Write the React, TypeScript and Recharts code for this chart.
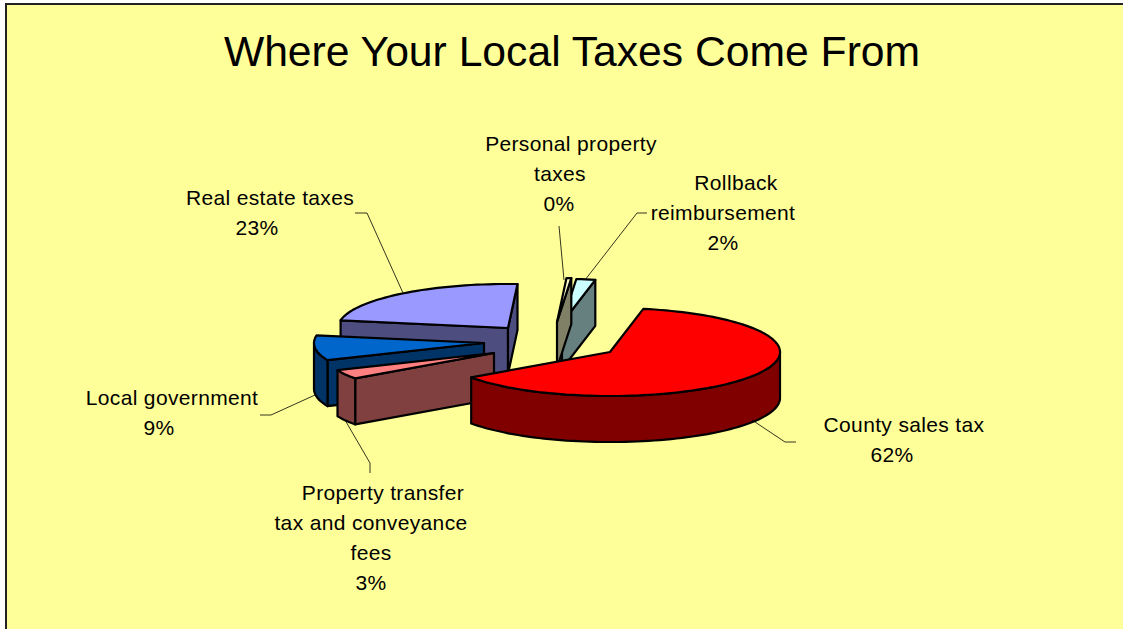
import React from "react";
import { PieChart, Pie } from "recharts";

// Data (the Pie runs counter-clockwise, which gives back-to-front painting)
const categories = [
  "Real estate taxes",
  "Local government",
  "Property transfer tax and conveyance fees",
  "County sales tax",
  "Rollback reimbursement",
  "Personal property taxes",
];
const values = [23.1, 9.2, 3.4, 62.1, 1.8, 0.45];
const titleText = "Where Your Local Taxes Come From";

const rows = categories.map((name, i) => ({ name, value: values[i] }));

// Styles and placement, kept apart from the data
const TOP: Record<string, string> = {
  "Real estate taxes": "#9999FF",
  "Local government": "#0066CC",
  "Property transfer tax and conveyance fees": "#FF8080",
  "County sales tax": "#FF0000",
  "Rollback reimbursement": "#CCFFFF",
  "Personal property taxes": "#FFFFCC",
};
const SIDE: Record<string, string> = {
  "Real estate taxes": "#4D4D80",
  "Local government": "#003366",
  "Property transfer tax and conveyance fees": "#804040",
  "County sales tax": "#800000",
  "Rollback reimbursement": "#668080",
  "Personal property taxes": "#808066",
};
const EXPLODE: Record<string, [number, number]> = {
  "Real estate taxes": [-37, -12],
  "Local government": [-61, 3],
  "Property transfer tax and conveyance fees": [-51, 13],
  "County sales tax": [65, 12],
  "Rollback reimbursement": [17, -17],
  "Personal property taxes": [12, -18],
};
type Lay = { lines: [string, number][]; pctX: number; y: number; leader: string };
const LABELS: Record<string, Lay> = {
  "Real estate taxes": {
    lines: [["Real estate taxes", 270]],
    pctX: 257,
    y: 198,
    leader: "355,213 367,213 403,293",
  },
  "Local government": {
    lines: [["Local government", 172]],
    pctX: 159,
    y: 398,
    leader: "260,415 271,415 315,395",
  },
  "Property transfer tax and conveyance fees": {
    lines: [
      ["Property transfer", 383],
      ["tax and conveyance", 371],
      ["fees", 371],
    ],
    pctX: 371,
    y: 493,
    leader: "370,473 370,463 345,420",
  },
  "County sales tax": {
    lines: [["County sales tax", 904]],
    pctX: 892,
    y: 425,
    leader: "796,442 785,442 752,420",
  },
  "Rollback reimbursement": {
    lines: [
      ["Rollback", 736],
      ["reimbursement", 723],
    ],
    pctX: 723,
    y: 183,
    leader: "647,213 637,213 585,280",
  },
  "Personal property taxes": {
    lines: [
      ["Personal property", 571],
      ["taxes", 560],
    ],
    pctX: 559,
    y: 144,
    leader: "559,226 564,280",
  },
};
const FONT = "'Liberation Sans', Arial, sans-serif";
const DEPTH = 46;
const TILT = 0.259;
const STROKE = 2.2;

type P = [number, number];
const pts = (a: P[]) => a.map((p) => `${p[0].toFixed(1)},${p[1].toFixed(1)}`).join(" ");

function Slice(props: any) {
  const { cx, cy, outerRadius, startAngle, endAngle, name } = props;
  const [ox, oy] = EXPLODE[name];
  const a = outerRadius;
  const b = outerRadius * TILT;
  const tx = cx + ox;
  const ty = cy + oy;
  const hi = Math.max(startAngle, endAngle);
  const lo = Math.min(startAngle, endAngle);
  const at = (deg: number): P => {
    const r = (deg * Math.PI) / 180;
    return [tx + a * Math.cos(r), ty - b * Math.sin(r)];
  };
  const arc: P[] = [];
  const n = Math.max(2, Math.ceil((hi - lo) / 2));
  for (let i = 0; i <= n; i++) arc.push(at(hi - ((hi - lo) * i) / n));
  const tip: P = [tx, ty];
  const top: P[] = [tip, ...arc];

  const wall = (run: P[], key: string) => (
    <polygon
      key={key}
      points={pts([...run, ...[...run].reverse().map((p) => [p[0], p[1] + DEPTH] as P)])}
      fill={SIDE[name]}
      stroke="#000"
      strokeWidth={STROKE}
      strokeLinejoin="round"
    />
  );
  const walls: React.ReactNode[] = [];
  if (tip[0] > arc[0][0]) walls.push(wall([tip, arc[0]], "r1"));
  const last = arc[arc.length - 1];
  if (last[0] > tip[0]) walls.push(wall([last, tip], "r2"));
  let run: P[] = [];
  const flush = (k: number) => {
    if (run.length > 1) walls.push(wall(run, "a" + k));
    run = [];
  };
  for (let i = 0; i < arc.length - 1; i++) {
    if (arc[i + 1][0] < arc[i][0]) {
      if (!run.length) run.push(arc[i]);
      run.push(arc[i + 1]);
    } else flush(i);
  }
  flush(arc.length);
  return (
    <g>
      {walls}
      <polygon points={pts(top)} fill={TOP[name]} stroke="#000" strokeWidth={STROKE} strokeLinejoin="round" />
    </g>
  );
}

const backShape = (p: any) => (p.name === "County sales tax" ? <g /> : <Slice {...p} />);
const frontShape = (p: any) => (p.name === "County sales tax" ? <Slice {...p} /> : <g />);

function SliceLabel(p: any) {
  const lay = LABELS[p.name];
  const pct = `${Math.round(p.percent * 100)}%`;
  return (
    <g>
      <polyline points={lay.leader} fill="none" stroke="#000" strokeWidth={0.8} />
      <text fontFamily={FONT} fontSize={21} letterSpacing={0.35} fill="#000" textAnchor="middle">
        {lay.lines.map(([t, x], i) => (
          <tspan key={i} x={x} y={lay.y + i * 30 + 7}>
            {t}
          </tspan>
        ))}
        <tspan x={lay.pctX} y={lay.y + lay.lines.length * 30 + 7}>
          {pct}
        </tspan>
      </text>
    </g>
  );
}

export default function App() {
  return (
    <div style={{ position: "absolute", left: 0, top: 0, width: 1123, height: 629, overflow: "hidden", background: "#fff" }}>
      <div
        style={{
          position: "absolute",
          left: 5,
          top: 3,
          right: 0,
          bottom: 0,
          background: "#FFFF99",
          borderLeft: "2px solid #222",
          borderTop: "2px solid #222",
        }}
      />
      <div style={{ position: "absolute", left: 0, top: 0 }}>
        <PieChart width={1123} height={629} margin={{ top: 0, right: 0, bottom: 0, left: 0 }}>
          <text x={572} y={66} textAnchor="middle" fontFamily={FONT} fontSize={42.67} fill="#000">
            {titleText}
          </text>
          <Pie
            data={rows}
            dataKey="value"
            nameKey="name"
            cx={545}
            cy={340}
            outerRadius={170}
            startAngle={86.8}
            endAngle={446.8}
            stroke="none"
            isAnimationActive={false}
            shape={backShape}
            label={SliceLabel}
            labelLine={false}
          />
          <Pie
            data={rows}
            dataKey="value"
            nameKey="name"
            cx={545}
            cy={340}
            outerRadius={170}
            startAngle={86.8}
            endAngle={446.8}
            stroke="none"
            isAnimationActive={false}
            shape={frontShape}
            label={false}
            labelLine={false}
          />
        </PieChart>
      </div>
    </div>
  );
}
